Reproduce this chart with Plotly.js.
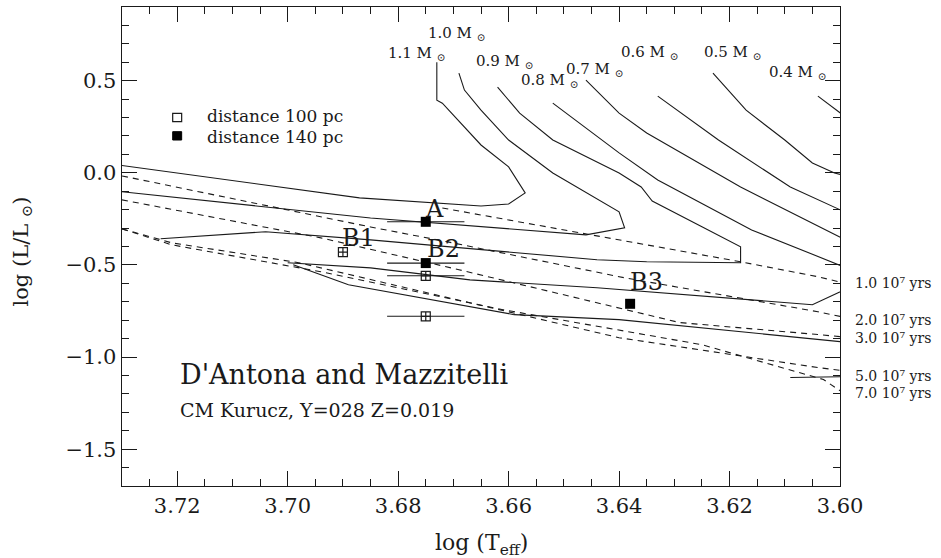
<!DOCTYPE html>
<html><head><meta charset="utf-8">
<script src="https://cdn.plot.ly/plotly-3.0.1.min.js"></script>
<style>html,body{margin:0;padding:0;background:#fff}#chart{width:941px;height:558px}</style>
</head><body><div id="chart"></div>
<script>
// ---- evolutionary mass tracks (solid) ----
const m11X = [3.673, 3.673, 3.672, 3.665, 3.660, 3.657, 3.660, 3.665, 3.687, 3.731];
const m11Y = [0.600, 0.394, 0.378, 0.151, 0.032, -0.109, -0.169, -0.180, -0.136, 0.044];
const m10X = [3.669, 3.668, 3.665, 3.660, 3.652, 3.640, 3.639, 3.646, 3.685, 3.731];
const m10Y = [0.541, 0.449, 0.340, 0.178, -0.001, -0.212, -0.299, -0.337, -0.245, -0.100];
const m09X = [3.662, 3.658, 3.652, 3.640, 3.636, 3.634, 3.625, 3.618, 3.618, 3.635, 3.644, 3.685, 3.704, 3.723];
const m09Y = [0.465, 0.324, 0.178, -0.001, -0.077, -0.153, -0.293, -0.402, -0.488, -0.483, -0.472, -0.364, -0.320, -0.358];
const m08X = [3.652, 3.643, 3.640, 3.633, 3.616, 3.598, 3.598, 3.605, 3.644, 3.667, 3.685, 3.700];
const m08Y = [0.378, 0.178, 0.108, -0.039, -0.310, -0.526, -0.619, -0.716, -0.624, -0.581, -0.516, -0.488];
const m07X = [3.646, 3.640, 3.635, 3.618, 3.598, 3.598, 3.640, 3.659, 3.689, 3.699];
const m07Y = [0.503, 0.324, 0.216, -0.077, -0.380, -0.922, -0.797, -0.770, -0.608, -0.499];
const m06X = [3.633, 3.622, 3.609, 3.600, 3.598, 3.598, 3.609];
const m06Y = [0.416, 0.178, -0.077, -0.201, -0.228, -1.106, -1.111];
const m05X = [3.623, 3.617, 3.610, 3.605, 3.601, 3.598];
const m05Y = [0.541, 0.340, 0.178, 0.053, -0.001, -0.023];
const m04X = [3.604, 3.600, 3.598];
const m04Y = [0.416, 0.324, 0.281];

// ---- isochrones (dashed) ----
const i1X = [3.672, 3.640, 3.618, 3.604, 3.598];
const i1Y = [-0.191, -0.364, -0.483, -0.564, -0.608];
const i2X = [3.730, 3.685, 3.671, 3.639, 3.604, 3.598];
const i2Y = [-0.017, -0.294, -0.375, -0.570, -0.754, -0.792];
const i3X = [3.730, 3.694, 3.669, 3.629, 3.604, 3.598];
const i3Y = [-0.147, -0.353, -0.526, -0.813, -0.878, -0.895];
const i5X = [3.730, 3.721, 3.698, 3.640, 3.604, 3.598];
const i5Y = [-0.304, -0.380, -0.488, -0.895, -1.057, -1.079];
const i7X = [3.730, 3.721, 3.694, 3.661, 3.625, 3.603, 3.599];
const i7Y = [-0.304, -0.391, -0.537, -0.743, -0.933, -1.122, -1.203];

// ---- observed stars ----
const d100X = [3.690, 3.675, 3.675];
const d100Y = [-0.430, -0.559, -0.779];
const d100Err = [0, 0.007, 0.007];
const d140X = [3.675, 3.675, 3.638];
const d140Y = [-0.266, -0.490, -0.711];
const d140Err = [0.007, 0.007, 0];

// ---- labels ----
const massLabels = ['1.1', '1.0', '0.9', '0.8', '0.7', '0.6', '0.5', '0.4'];
const massLabelX = [3.6822, 3.6749, 3.6662, 3.6581, 3.6500, 3.6401, 3.6250, 3.6133];
const massLabelY = [0.649, 0.755, 0.602, 0.503, 0.560, 0.652, 0.652, 0.544];
const ageLabels = ['1.0', '2.0', '3.0', '5.0', '7.0'];
const ageLabelY = [-0.597, -0.797, -0.895, -1.103, -1.195];
const starNames = ['A', 'B1', 'B2', 'B3'];
const starNameX = [3.6734, 3.6872, 3.6718, 3.6351];
const starNameY = [-0.196, -0.353, -0.413, -0.594];
const legendNames = ['distance 100 pc', 'distance 140 pc'];

const FONT = 'DejaVu Serif, Liberation Serif, serif';
const INK = '#1a1a1a';

const traces = [];
const solid = [[m11X, m11Y], [m10X, m10Y], [m09X, m09Y], [m08X, m08Y], [m07X, m07Y], [m06X, m06Y], [m05X, m05Y], [m04X, m04Y]];
solid.forEach(([x, y]) => traces.push({x, y, mode: 'lines', type: 'scatter', showlegend: false, hoverinfo: 'skip',
  line: {color: INK, width: 1.1}}));
const dashed = [[i1X, i1Y], [i2X, i2Y], [i3X, i3Y], [i5X, i5Y], [i7X, i7Y]];
dashed.forEach(([x, y]) => traces.push({x, y, mode: 'lines', type: 'scatter', showlegend: false, hoverinfo: 'skip',
  line: {color: INK, width: 1.1, dash: '6px,5px'}}));

traces.push({x: d100X, y: d100Y, mode: 'markers', type: 'scatter', name: legendNames[0], showlegend: false,
  marker: {symbol: 'square-cross-open', size: 9, color: INK, line: {width: 1.2, color: INK}},
  error_x: {type: 'data', array: d100Err, visible: true, width: 0, thickness: 1.1, color: INK}});
traces.push({x: d140X, y: d140Y, mode: 'markers', type: 'scatter', name: legendNames[1], showlegend: false,
  marker: {symbol: 'square', size: 10, color: '#000', line: {width: 0}},
  error_x: {type: 'data', array: d140Err, visible: true, width: 0, thickness: 1.1, color: INK}});

const ann = [];
massLabels.forEach((m, k) => ann.push({x: massLabelX[k], y: massLabelY[k], xref: 'x', yref: 'y',
  text: m + ' M <sub>⊙</sub>', showarrow: false, xanchor: 'left', yanchor: 'middle',
  font: {family: FONT, size: 15, color: INK}}));
ageLabels.forEach((a, k) => ann.push({x: 1.018, y: ageLabelY[k], xref: 'paper', yref: 'y',
  text: a + ' 10⁷ yrs', showarrow: false, xanchor: 'left', yanchor: 'middle',
  font: {family: FONT, size: 14, color: INK}}));
starNames.forEach((s, k) => ann.push({x: starNameX[k], y: starNameY[k], xref: 'x', yref: 'y',
  text: s, showarrow: false, xanchor: 'center', yanchor: 'middle',
  font: {family: FONT, size: 24, color: INK}}));
ann.push({x: 3.7198, y: -1.095, xref: 'x', yref: 'y', text: "D'Antona and Mazzitelli", showarrow: false,
  xanchor: 'left', yanchor: 'middle', font: {family: FONT, size: 27, color: INK}});
ann.push({x: 3.7198, y: -1.290, xref: 'x', yref: 'y', text: 'CM Kurucz, Y=028 Z=0.019', showarrow: false,
  xanchor: 'left', yanchor: 'middle', font: {family: FONT, size: 19, color: INK}});
ann.push({x: -0.139, y: 0.49, xref: 'paper', yref: 'paper', text: 'log (L/L <sub>⊙</sub>)', showarrow: false,
  textangle: -90, xanchor: 'center', yanchor: 'middle', font: {family: FONT, size: 21, color: INK}});
ann.push({x: 0.5, y: -0.123, xref: 'paper', yref: 'paper', text: 'log (T<sub>eff</sub>)', showarrow: false,
  xanchor: 'center', yanchor: 'middle', font: {family: FONT, size: 22, color: INK}});
// legend text
ann.push({x: 0.1156, y: 0.7714, xref: 'paper', yref: 'paper', text: legendNames[0], showarrow: false,
  xanchor: 'left', yanchor: 'middle', font: {family: FONT, size: 17, color: INK}});
ann.push({x: 0.1156, y: 0.7296, xref: 'paper', yref: 'paper', text: legendNames[1], showarrow: false,
  xanchor: 'left', yanchor: 'middle', font: {family: FONT, size: 17, color: INK}});

// legend key glyphs
const shapes = [
  {type: 'rect', xref: 'paper', yref: 'paper', x0: 0.0706, x1: 0.0831, y0: 0.7605, y1: 0.7780,
   line: {color: INK, width: 1.2}, fillcolor: 'rgba(0,0,0,0)'},
  {type: 'rect', xref: 'paper', yref: 'paper', x0: 0.0706, x1: 0.0831, y0: 0.7223, y1: 0.7397,
   line: {color: '#000', width: 1}, fillcolor: '#000'}
];

const axisCommon = {showgrid: false, zeroline: false, showline: true, linecolor: INK, linewidth: 1.4,
  mirror: 'ticks', ticks: 'inside', ticklen: 15, tickwidth: 1, tickcolor: INK,
  tickfont: {family: FONT, size: 21, color: INK}};

const layout = {
  width: 941, height: 558,
  margin: {l: 122, r: 101, t: 7, b: 72},
  paper_bgcolor: '#fff', plot_bgcolor: '#fff',
  font: {family: FONT, color: INK},
  xaxis: Object.assign({}, axisCommon, {range: [3.73, 3.60], tickmode: 'linear', tick0: 3.60, dtick: 0.02,
    tickformat: '.2f', minor: {tick0: 3.60, dtick: 0.005, ticks: 'inside', ticklen: 7, tickwidth: 1, tickcolor: INK, showgrid: false}}),
  yaxis: Object.assign({}, axisCommon, {range: [-1.7, 0.9], tickmode: 'linear', tick0: 0, dtick: 0.5,
    tickformat: '.1f', minor: {tick0: 0, dtick: 0.1, ticks: 'inside', ticklen: 7, tickwidth: 1, tickcolor: INK, showgrid: false}}),
  showlegend: false,
  annotations: ann,
  shapes: shapes
};

Plotly.newPlot('chart', traces, layout, {staticPlot: true, displayModeBar: false});
</script></body></html>
